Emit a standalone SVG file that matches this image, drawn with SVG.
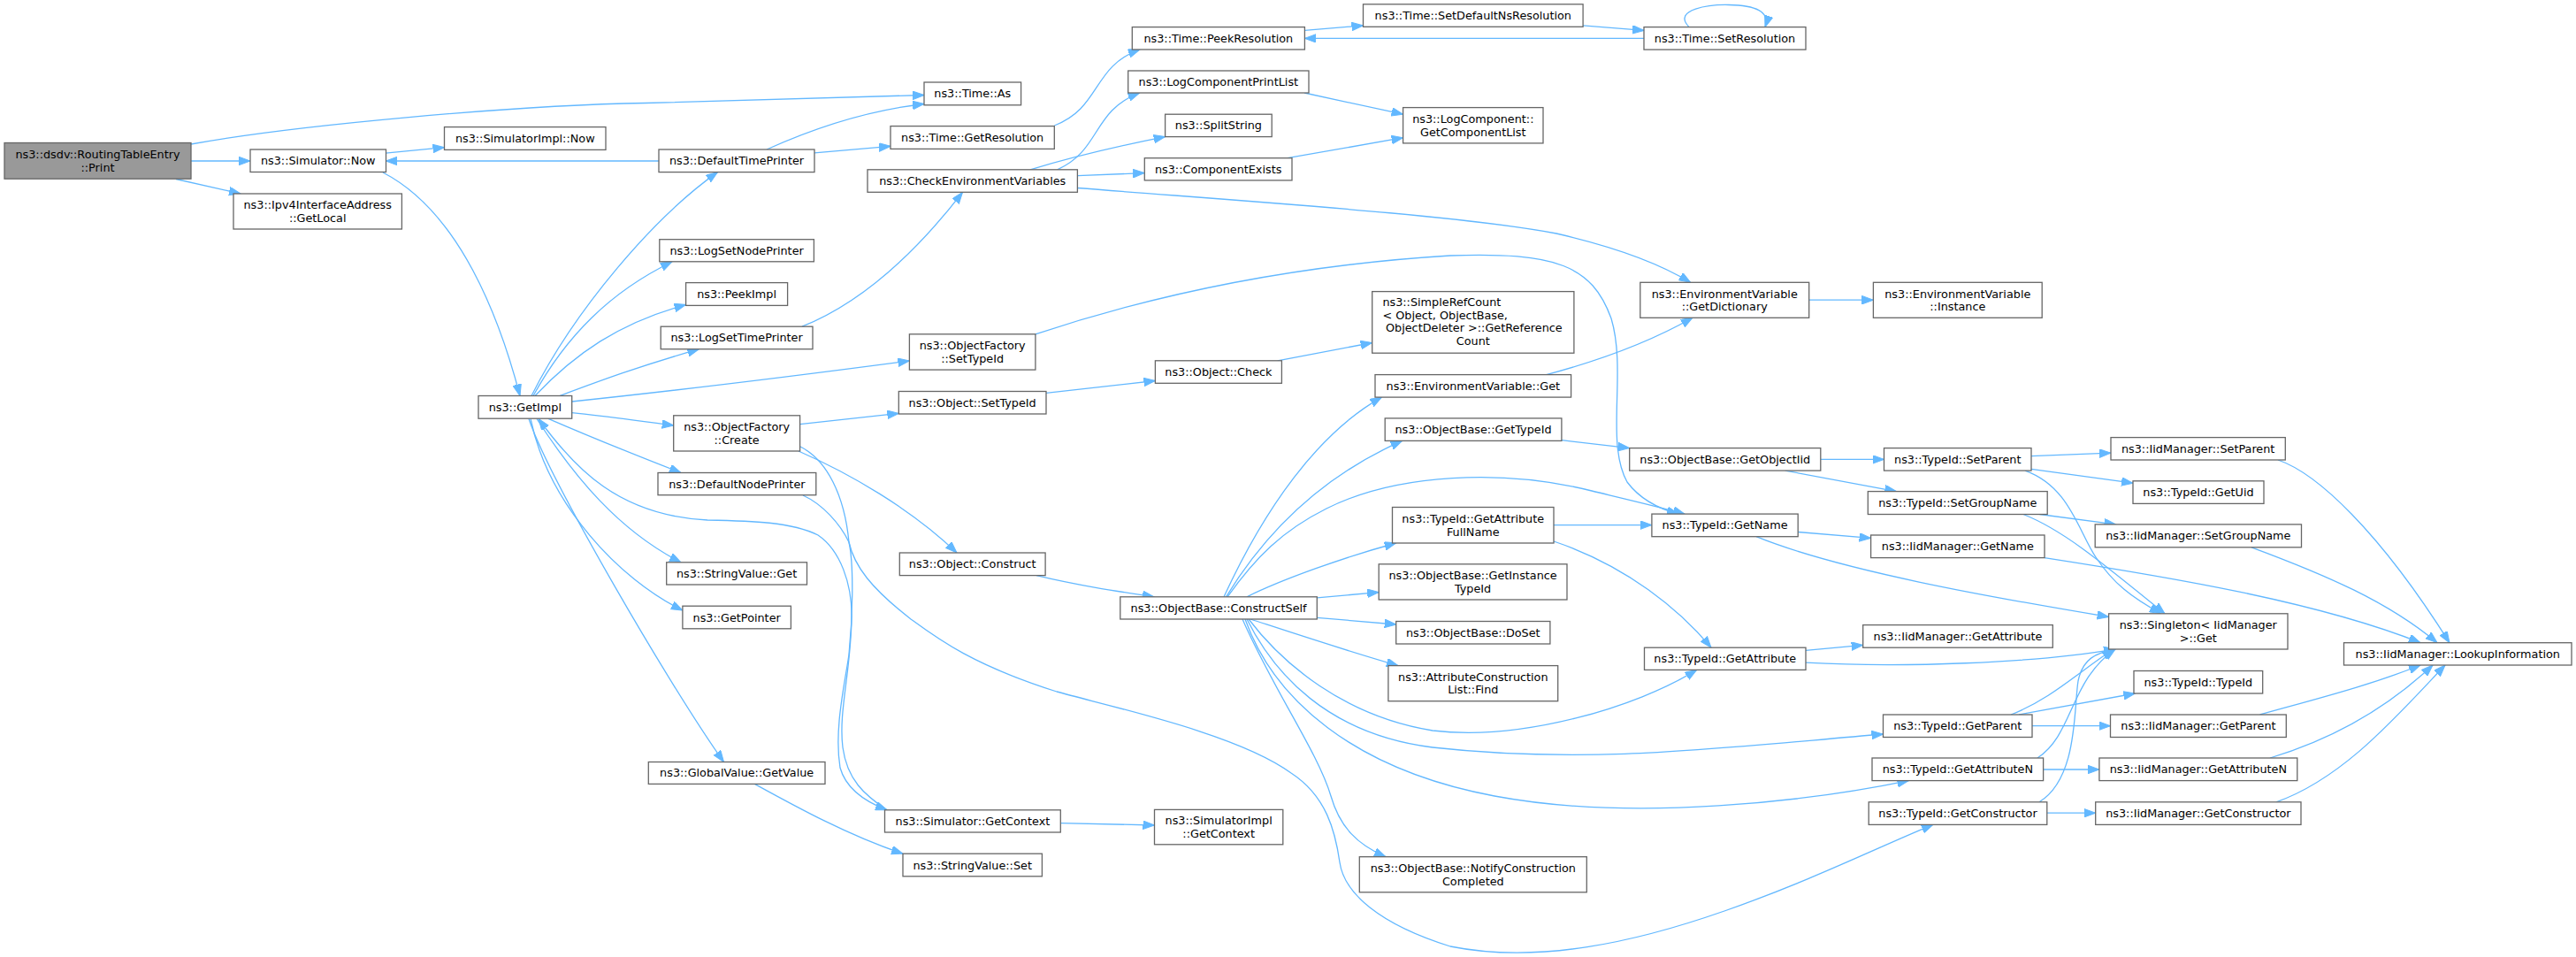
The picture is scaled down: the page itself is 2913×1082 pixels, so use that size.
<svg xmlns="http://www.w3.org/2000/svg" width="2913" height="1082" viewBox="0 0 2913 1082">
<defs>
<style>
.n rect{fill:#ffffff;stroke:#666666;stroke-width:1.3}
.root rect{fill:#999999}
text{font-family:"DejaVu Sans","Liberation Sans",sans-serif;font-size:12.8px;fill:#000000;text-anchor:middle}
text.l{text-anchor:start}
.e path{fill:none;stroke:#63b8ff;stroke-width:1.3;marker-end:url(#ah)}
</style>
<marker id="ah" markerWidth="14" markerHeight="10" refX="13" refY="4.8" orient="auto" markerUnits="userSpaceOnUse"><path d="M0,0 L13,4.8 L0,9.6 z" fill="#63b8ff" stroke="#63b8ff" stroke-width="1"/></marker>
</defs>
<rect x="0" y="0" width="2913" height="1082" fill="#ffffff"/>
<g id="connectors" class="e">
<path d="M216,163 C330,142 580,119 730,116.5 C850,114 950,110 1045,107.5"/>
<path d="M216,182 L283,182"/>
<path d="M199,202.5 L272,219"/>
<path d="M436,173.2 L502.5,166.7"/>
<path d="M433,195 C520,240 565,360 588,447.5"/>
<path d="M745,182 L436.3,182"/>
<path d="M867,169 C920,145 980,125 1045,117.5"/>
<path d="M921,172.9 L1007,165.3"/>
<path d="M1192.3,142 C1245,122 1235,75 1289,56"/>
<path d="M1475.4,34.4 L1541.5,28.9"/>
<path d="M1790,28.9 L1859,34.4"/>
<path d="M1859,43.4 L1475.4,43.4"/>
<path d="M1910,30.6 C1890,10 1935,5 1955,5.5 C1985,6 2002,13 1996,30.6"/>
<path d="M601,447.5 C650,350 740,245 811.5,194.6"/>
<path d="M603,447.5 C640,380 690,330 760,296"/>
<path d="M605,447.5 C650,400 700,365 775.6,344.5"/>
<path d="M633,447.5 C680,430 720,415 790.5,394.7"/>
<path d="M646.7,454 C780,440 900,425 1028.4,408"/>
<path d="M646.7,466.7 C690,471 720,476 761.7,481"/>
<path d="M620,473.3 C670,495 720,515 770,534.5"/>
<path d="M607,473.5 C650,540 700,600 770,635.8"/>
<path d="M600,473.5 C620,570 700,655 771.9,690"/>
<path d="M598,473.5 C620,540 760,780 818.5,861.5"/>
<path d="M1003,915.8 C978,899 958,882 953,845 C948,805 962,760 963,700 C964,660 950,622 925,605 C895,590 850,589 800,588 C700,583 650,530 609,473.5"/>
<path d="M908,560 C930,570 950,592 960,613 C966,640 964,700 960,740 C955,775 943,825 950,868 C957,893 980,907 1003,915.8"/>
<path d="M903,510 C960,535 1030,575 1082,625"/>
<path d="M904.6,479.7 L1016.3,467.4"/>
<path d="M905,505 C935,520 955,560 960,613 C966,640 985,665 1030,700 C1060,722 1100,752 1195,782 C1260,800 1400,830 1460,874 C1500,900 1510,940 1515,975 C1520,1010 1560,1045 1640,1070 C1740,1090 1850,1065 1950,1030 C2050,995 2130,955 2186,932.4"/>
<path d="M907,369.2 C980,340 1040,280 1088.5,217.3"/>
<path d="M1195.6,191.8 C1245,170 1235,125 1288.7,105"/>
<path d="M1165,191.8 C1220,175 1265,165 1317.6,154.6"/>
<path d="M1218.4,198.7 L1294.3,195.6"/>
<path d="M1218.4,212.5 C1400,227 1650,243 1760,264 C1830,280 1880,300 1911.6,319.3"/>
<path d="M1475,105 L1586.6,129.2"/>
<path d="M1456,178.7 L1586.6,155.7"/>
<path d="M1183,444.3 L1306.4,430.5"/>
<path d="M1444.7,407.8 L1551.7,387.5"/>
<path d="M1170.9,377.8 C1300,335 1460,300 1640,289 C1760,285 1800,300 1822,360 C1840,420 1815,500 1840,545 C1855,565 1875,575 1898,581.1"/>
<path d="M1172,650.6 C1220,662 1260,668 1305,674.8"/>
<path d="M1384,674.8 C1430,575 1490,490 1562.4,449.1"/>
<path d="M1386.5,674.8 C1420,620 1480,545 1585.7,498.4"/>
<path d="M1388,674.8 C1420,630 1450,600 1500,575 C1580,535 1700,530 1800,555 C1850,567 1880,574 1905,581.1"/>
<path d="M1410,674.8 C1450,655 1520,630 1578.7,614"/>
<path d="M1489.3,675.9 L1559.2,669.6"/>
<path d="M1489.3,698.3 L1578.7,706"/>
<path d="M1414,700 C1460,715 1520,735 1581,752.6"/>
<path d="M1412,700 C1450,750 1520,810 1620,826 C1720,838 1850,800 1918.6,757.4"/>
<path d="M1410,700 C1440,760 1500,830 1620,845 C1800,865 1950,845 2129.5,830"/>
<path d="M1408,700 C1440,790 1530,870 1690,900 C1850,930 2050,905 2158.4,882.6"/>
<path d="M1405,700 C1440,780 1490,850 1505,900 C1515,935 1535,955 1567,968.7"/>
<path d="M1748.7,423.6 C1800,410 1860,390 1914,359.3"/>
<path d="M2045.7,339.2 L2118.4,339.2"/>
<path d="M1765.9,497.7 L1842.7,506.6"/>
<path d="M2058.8,519.4 L2130.5,519.4"/>
<path d="M2018.7,532.1 L2144.4,555.6"/>
<path d="M2297,515.6 L2387,512.1"/>
<path d="M2297,530.4 L2412,546.2"/>
<path d="M2290,532.1 C2340,550 2350,600 2370,630 C2390,660 2410,675 2443.7,693.8"/>
<path d="M2306.4,581.5 L2392.5,592.9"/>
<path d="M2288,581.5 C2330,598 2370,630 2448,693.8"/>
<path d="M2033.2,601.5 L2115.6,608.4"/>
<path d="M1986,606.7 C2080,645 2250,675 2384.6,697.5"/>
<path d="M1757,593.6 L1867.9,593.6"/>
<path d="M1757,612 C1840,640 1900,690 1935,732.2"/>
<path d="M2042,735.3 L2106.7,729.4"/>
<path d="M2042,749.2 C2150,755 2300,750 2392,733.8"/>
<path d="M2274,808 C2320,790 2350,760 2390,734"/>
<path d="M2283,808 L2414.4,784"/>
<path d="M2298,820.7 L2386.5,820.7"/>
<path d="M2304,857 C2345,830 2340,770 2392,734"/>
<path d="M2310.6,870 L2373.9,870"/>
<path d="M2306,906.8 C2350,880 2345,800 2350,770 C2355,745 2370,738 2392,734"/>
<path d="M2314.8,919.2 L2369.7,919.2"/>
<path d="M2576,520 C2620,535 2690,600 2770,726.7"/>
<path d="M2546,618.8 C2630,650 2700,680 2756,726.7"/>
<path d="M2312,630.6 C2450,652 2620,680 2737,726.7"/>
<path d="M2555.5,808 C2620,790 2680,775 2737,752"/>
<path d="M2567,857 C2640,835 2700,800 2751,752"/>
<path d="M2574,906.8 C2650,880 2710,810 2765,752"/>
<path d="M1199.3,930.6 L1305.5,933"/>
<path d="M853.4,886.4 C900,912 960,945 1021,965.2"/>
</g>
<g id="n_print" class="n root"><rect x="5" y="161.5" width="211" height="40.7"/><text x="110.5" y="179.1">ns3::dsdv::RoutingTableEntry</text><text x="110.5" y="193.6">::Print</text></g>
<g id="n_simnow" class="n"><rect x="283" y="169" width="153.5" height="25.5"/><text x="359.75" y="186.25">ns3::Simulator::Now</text></g>
<g id="n_simimplnow" class="n"><rect x="502.5" y="143.6" width="182.5" height="25.8"/><text x="593.75" y="161">ns3::SimulatorImpl::Now</text></g>
<g id="n_getlocal" class="n"><rect x="264" y="219" width="190.4" height="40"/><text x="359.2" y="236.25">ns3::Ipv4InterfaceAddress</text><text x="359.2" y="250.75">::GetLocal</text></g>
<g id="n_getimpl" class="n"><rect x="541" y="447.5" width="105.7" height="25.7"/><text x="593.85" y="464.85">ns3::GetImpl</text></g>
<g id="n_timeas" class="n"><rect x="1045" y="93" width="109.6" height="25.8"/><text x="1099.8" y="110.4">ns3::Time::As</text></g>
<g id="n_defaulttimeprinter" class="n"><rect x="745" y="169" width="176" height="25.6"/><text x="833" y="186.3">ns3::DefaultTimePrinter</text></g>
<g id="n_getresolution" class="n"><rect x="1007" y="142.6" width="185.3" height="25.8"/><text x="1099.65" y="160">ns3::Time::GetResolution</text></g>
<g id="n_peekresolution" class="n"><rect x="1280.3" y="30.6" width="195.1" height="25.4"/><text x="1377.85" y="47.8">ns3::Time::PeekResolution</text></g>
<g id="n_logcomponentprintlist" class="n"><rect x="1275.7" y="80" width="204.3" height="25"/><text x="1377.85" y="97">ns3::LogComponentPrintList</text></g>
<g id="n_splitstring" class="n"><rect x="1317.6" y="129.2" width="120.6" height="25.4"/><text x="1377.9" y="146.4">ns3::SplitString</text></g>
<g id="n_componentexists" class="n"><rect x="1294.3" y="178.7" width="166.7" height="25.2"/><text x="1377.65" y="195.8">ns3::ComponentExists</text></g>
<g id="n_checkenv" class="n"><rect x="981" y="191.8" width="237.4" height="25.5"/><text x="1099.7" y="209.05">ns3::CheckEnvironmentVariables</text></g>
<g id="n_logsetnodeprinter" class="n"><rect x="745.8" y="270.7" width="174.6" height="25.1"/><text x="833.1" y="287.75">ns3::LogSetNodePrinter</text></g>
<g id="n_peekimpl" class="n"><rect x="775.6" y="319.6" width="115" height="25.8"/><text x="833.1" y="337">ns3::PeekImpl</text></g>
<g id="n_logsettimeprinter" class="n"><rect x="747.2" y="369.2" width="171.8" height="25.5"/><text x="833.1" y="386.45">ns3::LogSetTimePrinter</text></g>
<g id="n_of_settypeid" class="n"><rect x="1028.4" y="377.8" width="142.5" height="40.3"/><text x="1099.65" y="395.2">ns3::ObjectFactory</text><text x="1099.65" y="409.7">::SetTypeId</text></g>
<g id="n_objcheck" class="n"><rect x="1306.4" y="407.8" width="143" height="25.5"/><text x="1377.9" y="425.05">ns3::Object::Check</text></g>
<g id="n_obj_settypeid" class="n"><rect x="1016.3" y="442.5" width="166.7" height="25.5"/><text x="1099.65" y="459.75">ns3::Object::SetTypeId</text></g>
<g id="n_of_create" class="n"><rect x="761.7" y="469.8" width="142.9" height="40.2"/><text x="833.15" y="487.15">ns3::ObjectFactory</text><text x="833.15" y="501.65">::Create</text></g>
<g id="n_defaultnodeprinter" class="n"><rect x="744" y="534.5" width="178.8" height="25.2"/><text x="833.4" y="551.6">ns3::DefaultNodePrinter</text></g>
<g id="n_objconstruct" class="n"><rect x="1017.3" y="625" width="164.8" height="25.6"/><text x="1099.7" y="642.3">ns3::Object::Construct</text></g>
<g id="n_constructself" class="n"><rect x="1266.8" y="674.8" width="222.5" height="25.2"/><text x="1378.05" y="691.9">ns3::ObjectBase::ConstructSelf</text></g>
<g id="n_svget" class="n"><rect x="753.7" y="635.8" width="158.8" height="25.2"/><text x="833.1" y="652.9">ns3::StringValue::Get</text></g>
<g id="n_getpointer" class="n"><rect x="771.9" y="685.2" width="122.5" height="25.6"/><text x="833.15" y="702.5">ns3::GetPointer</text></g>
<g id="n_gv_getvalue" class="n"><rect x="733.3" y="861.5" width="199.7" height="24.9"/><text x="833.15" y="878.45">ns3::GlobalValue::GetValue</text></g>
<g id="n_sim_getcontext" class="n"><rect x="1000.5" y="915.8" width="198.8" height="25.2"/><text x="1099.9" y="932.9">ns3::Simulator::GetContext</text></g>
<g id="n_simimpl_getcontext" class="n"><rect x="1305.5" y="915.4" width="145.3" height="39.4"/><text x="1378.15" y="932.35">ns3::SimulatorImpl</text><text x="1378.15" y="946.85">::GetContext</text></g>
<g id="n_svset" class="n"><rect x="1021" y="965.2" width="157.4" height="25.6"/><text x="1099.7" y="982.5">ns3::StringValue::Set</text></g>
<g id="n_setdefaultns" class="n"><rect x="1541.5" y="4.8" width="248.6" height="25.5"/><text x="1665.8" y="22.05">ns3::Time::SetDefaultNsResolution</text></g>
<g id="n_setresolution" class="n"><rect x="1859" y="30.6" width="183" height="25.5"/><text x="1950.5" y="47.85">ns3::Time::SetResolution</text></g>
<g id="n_getcomponentlist" class="n"><rect x="1586.6" y="121.6" width="158.4" height="40.3"/><text x="1665.8" y="139">ns3::LogComponent::</text><text x="1665.8" y="153.5">GetComponentList</text></g>
<g id="n_getdictionary" class="n"><rect x="1854.8" y="319.3" width="190.9" height="40"/><text x="1950.25" y="336.55">ns3::EnvironmentVariable</text><text x="1950.25" y="351.05">::GetDictionary</text></g>
<g id="n_envinstance" class="n"><rect x="2118.4" y="319.3" width="190.8" height="40"/><text x="2213.8" y="336.55">ns3::EnvironmentVariable</text><text x="2213.8" y="351.05">::Instance</text></g>
<g id="n_simplerefcount" class="n"><rect x="1551.7" y="329.6" width="228.2" height="69.6"/><text class="l" x="1563.4" y="346.1">ns3::SimpleRefCount</text><text class="l" x="1563.4" y="360.6">&lt; Object, ObjectBase,</text><text class="l" x="1567" y="375.1">ObjectDeleter &gt;::GetReference</text><text x="1665.8" y="389.6">Count</text></g>
<g id="n_envget" class="n"><rect x="1555" y="423.6" width="221.6" height="25.5"/><text x="1665.8" y="440.85">ns3::EnvironmentVariable::Get</text></g>
<g id="n_ob_gettypeid" class="n"><rect x="1566.2" y="472.9" width="199.7" height="25.5"/><text x="1666.05" y="490.15">ns3::ObjectBase::GetTypeId</text></g>
<g id="n_getobjectiid" class="n"><rect x="1842.7" y="506.6" width="216.1" height="25.5"/><text x="1950.75" y="523.85">ns3::ObjectBase::GetObjectIid</text></g>
<g id="n_tid_setparent" class="n"><rect x="2130.5" y="506.6" width="166.5" height="25.5"/><text x="2213.75" y="523.85">ns3::TypeId::SetParent</text></g>
<g id="n_iid_setparent" class="n"><rect x="2387" y="494.6" width="197.3" height="25.4"/><text x="2485.65" y="511.8">ns3::IidManager::SetParent</text></g>
<g id="n_getattributefullname" class="n"><rect x="1574.5" y="573.5" width="182.5" height="40.5"/><text x="1665.75" y="591">ns3::TypeId::GetAttribute</text><text x="1665.75" y="605.5">FullName</text></g>
<g id="n_tid_getname" class="n"><rect x="1867.9" y="581.1" width="165.3" height="25.6"/><text x="1950.55" y="598.4">ns3::TypeId::GetName</text></g>
<g id="n_getinstancetypeid" class="n"><rect x="1559.2" y="637.8" width="212.8" height="40.2"/><text x="1665.6" y="655.15">ns3::ObjectBase::GetInstance</text><text x="1665.6" y="669.65">TypeId</text></g>
<g id="n_doset" class="n"><rect x="1578.7" y="702.5" width="174.2" height="25.5"/><text x="1665.8" y="719.75">ns3::ObjectBase::DoSet</text></g>
<g id="n_acl_find" class="n"><rect x="1569.9" y="752.6" width="191.8" height="40.1"/><text x="1665.8" y="769.9">ns3::AttributeConstruction</text><text x="1665.8" y="784.4">List::Find</text></g>
<g id="n_tid_getattribute" class="n"><rect x="1859.5" y="732.2" width="182.5" height="25.2"/><text x="1950.75" y="749.3">ns3::TypeId::GetAttribute</text></g>
<g id="n_notifyconstruction" class="n"><rect x="1537.3" y="968.7" width="257" height="40.1"/><text x="1665.8" y="986">ns3::ObjectBase::NotifyConstruction</text><text x="1665.8" y="1000.5">Completed</text></g>
<g id="n_tid_setgroupname" class="n"><rect x="2112.3" y="555.6" width="202.9" height="25.9"/><text x="2213.75" y="573.05">ns3::TypeId::SetGroupName</text></g>
<g id="n_iid_getname" class="n"><rect x="2115.6" y="605" width="196.4" height="25.6"/><text x="2213.8" y="622.3">ns3::IidManager::GetName</text></g>
<g id="n_iid_getattribute" class="n"><rect x="2106.7" y="706.6" width="214.6" height="25.6"/><text x="2214" y="723.9">ns3::IidManager::GetAttribute</text></g>
<g id="n_tid_getparent" class="n"><rect x="2129.5" y="808" width="168.5" height="25.5"/><text x="2213.75" y="825.25">ns3::TypeId::GetParent</text></g>
<g id="n_tid_getattributen" class="n"><rect x="2117" y="857" width="193.6" height="25.6"/><text x="2213.8" y="874.3">ns3::TypeId::GetAttributeN</text></g>
<g id="n_tid_getconstructor" class="n"><rect x="2113.2" y="906.8" width="201.6" height="25.6"/><text x="2214" y="924.1">ns3::TypeId::GetConstructor</text></g>
<g id="n_tid_getuid" class="n"><rect x="2412" y="543.8" width="148" height="25.6"/><text x="2486" y="561.1">ns3::TypeId::GetUid</text></g>
<g id="n_iid_setgroupname" class="n"><rect x="2369.2" y="592.9" width="233.3" height="25.9"/><text x="2485.85" y="610.35">ns3::IidManager::SetGroupName</text></g>
<g id="n_singleton_get" class="n"><rect x="2384.6" y="693.8" width="202.4" height="40.2"/><text x="2485.8" y="711.15">ns3::Singleton&lt; IidManager</text><text x="2485.8" y="725.65">&gt;::Get</text></g>
<g id="n_lookupinformation" class="n"><rect x="2650.5" y="726.7" width="257.5" height="25.3"/><text x="2779.25" y="743.85">ns3::IidManager::LookupInformation</text></g>
<g id="n_tid_typeid" class="n"><rect x="2413" y="758.5" width="145.7" height="25.5"/><text x="2485.85" y="775.75">ns3::TypeId::TypeId</text></g>
<g id="n_iid_getparent" class="n"><rect x="2386.5" y="808" width="198.8" height="25.5"/><text x="2485.9" y="825.25">ns3::IidManager::GetParent</text></g>
<g id="n_iid_getattributen" class="n"><rect x="2373.9" y="857" width="223.9" height="25.6"/><text x="2485.85" y="874.3">ns3::IidManager::GetAttributeN</text></g>
<g id="n_iid_getconstructor" class="n"><rect x="2369.7" y="906.8" width="232.3" height="25.6"/><text x="2485.85" y="924.1">ns3::IidManager::GetConstructor</text></g>
</svg>
